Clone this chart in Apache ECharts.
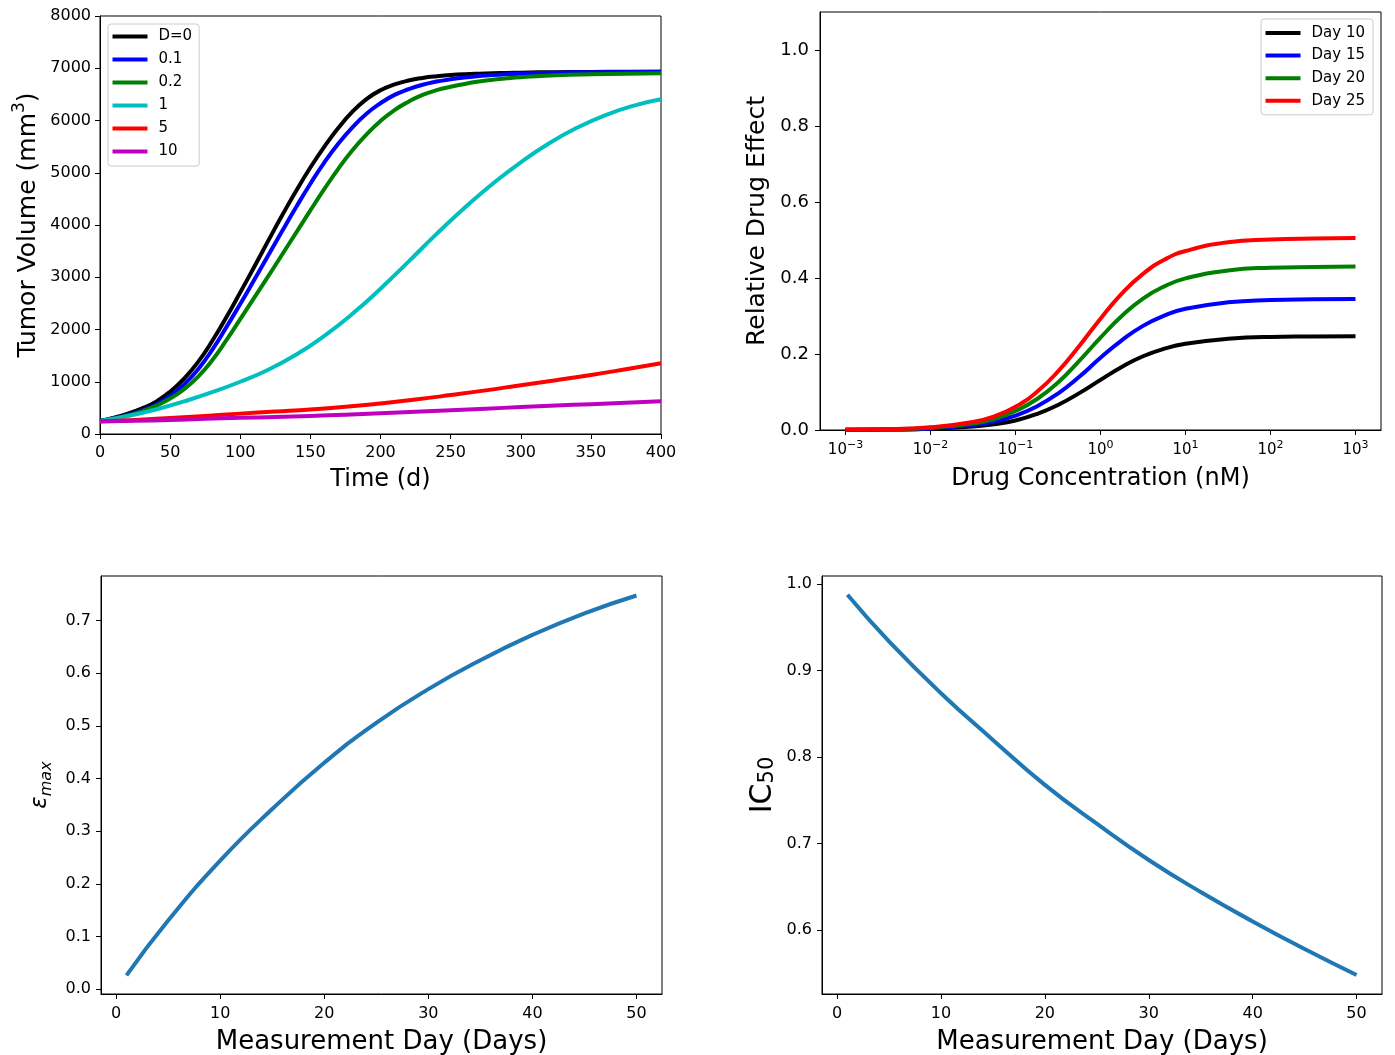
<!DOCTYPE html>
<html>
<head>
<meta charset="utf-8">
<script src="https://cdn.jsdelivr.net/npm/echarts@6/dist/echarts.min.js"></script>
<style>html,body{margin:0;padding:0;background:#fff}#c{width:1395px;height:1055px}</style>
</head>
<body>
<div id="c"></div>
<script>
// ---------- Top-left: tumor volume vs time ----------
const timeFine   = [0, 10, 20, 30, 40, 50, 60, 70, 80, 90, 100, 110, 120, 130, 140, 150, 160, 170, 180, 190, 200,
                    210, 220, 230, 240, 250, 260, 270, 280, 290, 300, 325, 350, 375, 400];
const volD0  = [250, 310, 390, 490, 620, 810, 1060, 1380, 1780, 2230, 2710, 3200, 3700, 4190, 4660, 5100, 5500, 5860, 6170, 6410, 6580,
                6690, 6765, 6815, 6848, 6870, 6886, 6897, 6905, 6911, 6916, 6925, 6930, 6933, 6935];
const volD01 = [250, 300, 365, 450, 565, 730, 950, 1240, 1610, 2040, 2490, 2950, 3420, 3890, 4350, 4790, 5200, 5560, 5870, 6130, 6330,
                6490, 6600, 6685, 6745, 6790, 6825, 6850, 6870, 6885, 6897, 6915, 6925, 6930, 6933];
const volD02 = [250, 295, 355, 435, 540, 680, 860, 1100, 1410, 1790, 2200, 2610, 3020, 3440, 3860, 4280, 4690, 5080, 5430, 5730, 5990,
                6200, 6360, 6490, 6580, 6645, 6700, 6745, 6780, 6808, 6830, 6865, 6885, 6897, 6904];
const timeCyan = [0, 20, 40, 60, 80, 100, 120, 140, 160, 180, 200, 220, 240, 260, 280, 300, 320, 340, 360, 380, 400];
const volD1  = [250, 345, 470, 625, 800, 1000, 1230, 1520, 1880, 2300, 2780, 3300, 3830, 4330, 4790, 5200, 5560, 5860, 6100, 6280, 6405];
const timeCoarse = [0, 25, 50, 75, 100, 125, 150, 175, 200, 225, 250, 275, 300, 325, 350, 375, 400];
const volD5  = [245, 270, 305, 345, 390, 430, 470, 520, 585, 660, 745, 835, 935, 1030, 1130, 1240, 1355];
const volD10 = [240, 252, 270, 290, 310, 325, 345, 370, 395, 425, 455, 485, 515, 545, 570, 600, 628];
const doseNames = ['D=0', '0.1', '0.2', '1', '5', '10'];
const doseColors = ['#000000', '#0000ff', '#008000', '#00bfbf', '#ff0000', '#bf00bf'];

// ---------- Top-right: relative drug effect vs concentration (log10 nM) ----------
const concLog10 = [-3, -2.5, -2, -1.5, -1.25, -1, -0.75, -0.5, -0.25, 0, 0.25, 0.5, 0.75, 1, 1.5, 2, 2.5, 3];
const effDay10 = [0.000, 0.001, 0.003, 0.009, 0.015, 0.025, 0.042, 0.066, 0.097, 0.132, 0.166, 0.194, 0.214, 0.227, 0.240, 0.245, 0.246, 0.247];
const effDay15 = [0.000, 0.001, 0.004, 0.013, 0.022, 0.038, 0.062, 0.096, 0.140, 0.190, 0.236, 0.274, 0.301, 0.319, 0.336, 0.342, 0.344, 0.345];
const effDay20 = [0.001, 0.002, 0.006, 0.017, 0.029, 0.050, 0.081, 0.125, 0.182, 0.243, 0.300, 0.346, 0.378, 0.399, 0.420, 0.427, 0.429, 0.430];
const effDay25 = [0.001, 0.002, 0.007, 0.021, 0.036, 0.061, 0.100, 0.154, 0.221, 0.293, 0.359, 0.411, 0.448, 0.471, 0.494, 0.501, 0.504, 0.505];
const dayNames = ['Day 10', 'Day 15', 'Day 20', 'Day 25'];
const dayColors = ['#000000', '#0000ff', '#008000', '#ff0000'];
const concTickExp = [-3, -2, -1, 0, 1, 2, 3];
const effTicks = [0, 0.2, 0.4, 0.6, 0.8, 1.0];

// ---------- Bottom: eps_max and IC50 vs measurement day ----------
const measDays = [1, 5, 10, 15, 20, 25, 30, 35, 40, 45, 50];
const epsMax = [0.026, 0.130, 0.244, 0.342, 0.430, 0.506, 0.570, 0.625, 0.673, 0.714, 0.748];
const ic50   = [0.988, 0.934, 0.874, 0.820, 0.768, 0.723, 0.681, 0.644, 0.610, 0.578, 0.548];
const dayTicks = [0, 10, 20, 30, 40, 50];
const epsTicks = [0.0, 0.1, 0.2, 0.3, 0.4, 0.5, 0.6, 0.7];
const icTicks = [0.6, 0.7, 0.8, 0.9, 1.0];

const FONT = 'DejaVu Sans';
const BLACK = '#000';

function axis(gridIndex, extra) {
  const a = {
    type: 'value',
    gridIndex: gridIndex,
    axisLine: { show: true, onZero: false, lineStyle: { color: BLACK, width: 1 } },
    axisTick: { show: true, length: 5, lineStyle: { color: BLACK, width: 1 } },
    splitLine: { show: false },
    nameLocation: 'middle',
    nameTextStyle: { color: BLACK, fontFamily: FONT, fontSize: 25 },
    axisLabel: { color: BLACK, fontFamily: FONT, fontSize: 15 }
  };
  for (const k in extra) {
    if (extra[k] && typeof extra[k] === 'object' && !Array.isArray(extra[k]) && a[k] && typeof a[k] === 'object') {
      a[k] = Object.assign({}, a[k], extra[k]);
    } else {
      a[k] = extra[k];
    }
  }
  return a;
}

function pairs(xs, ys) { return xs.map((x, i) => [x, ys[i]]); }

const grids = [
  { left: 100, top: 16, width: 561, height: 418 },
  { left: 820, top: 12, width: 561, height: 418 },
  { left: 101, top: 576, width: 561, height: 418 },
  { left: 822, top: 576, width: 560, height: 418 }
].map(g => Object.assign(g, { show: true, borderColor: BLACK, borderWidth: 1, backgroundColor: 'transparent', containLabel: false, outerBoundsMode: 'none' }));

const xAxes = [
  axis(0, { min: 0, max: 400, interval: 50, name: 'Time (d)', nameGap: 34,
    nameTextStyle: { fontSize: 24 },
    axisLabel: { margin: 11, fontSize: 16, formatter: v => String(v) } }),
  axis(1, { min: -3.3, max: 3.3, name: 'Drug Concentration (nM)', nameGap: 37,
    nameTextStyle: { fontSize: 24 },
    axisTick: { customValues: concTickExp },
    axisLabel: { margin: 10, customValues: concTickExp,
      formatter: v => '{b|10}{s|' + (v < 0 ? '\u2212' + (-v) : String(v)) + '}',
      rich: {
        b: { fontSize: 15, lineHeight: 18, verticalAlign: 'bottom', fontFamily: FONT, color: BLACK },
        s: { fontSize: 11, lineHeight: 9, verticalAlign: 'top', fontFamily: FONT, color: BLACK }
      } } }),
  axis(2, { min: -1.45, max: 52.45, name: 'Measurement Day (Days)', nameGap: 35,
    nameTextStyle: { fontSize: 26 },
    axisTick: { customValues: dayTicks },
    axisLabel: { margin: 12, fontSize: 16, customValues: dayTicks, formatter: v => String(v) } }),
  axis(3, { min: -1.45, max: 52.45, name: 'Measurement Day (Days)', nameGap: 35,
    nameTextStyle: { fontSize: 26 },
    axisTick: { customValues: dayTicks },
    axisLabel: { margin: 12, fontSize: 16, customValues: dayTicks, formatter: v => String(v) } })
];

const yAxes = [
  axis(0, { min: 0, max: 8000, interval: 1000, name: '{n|Tumor Volume (mm}{s|3}{n|)}', nameGap: 59,
    nameTextStyle: { rich: {
      n: { fontSize: 25, lineHeight: 30, verticalAlign: 'bottom', fontFamily: FONT, color: BLACK },
      s: { fontSize: 17, lineHeight: 17, verticalAlign: 'top', fontFamily: FONT, color: BLACK }
    } },
    axisLabel: { margin: 9, fontSize: 16, formatter: v => String(v) } }),
  axis(1, { min: 0, max: 1.1, name: 'Relative Drug Effect', nameGap: 50,
    axisTick: { customValues: effTicks },
    axisLabel: { margin: 11, fontSize: 18, customValues: effTicks, formatter: v => v.toFixed(1) } }),
  axis(2, { min: -0.0095, max: 0.785, name: '{e|\u03b5}{m|max}', nameGap: 46,
    nameTextStyle: { rich: {
      e: { fontSize: 23, lineHeight: 26, verticalAlign: 'top', fontStyle: 'italic', fontFamily: FONT, color: BLACK },
      m: { fontSize: 16, lineHeight: 16, verticalAlign: 'bottom', fontStyle: 'italic', fontFamily: FONT, color: BLACK }
    } },
    axisTick: { customValues: epsTicks },
    axisLabel: { margin: 10, fontSize: 16, customValues: epsTicks, formatter: v => v.toFixed(1) } }),
  axis(3, { min: 0.526, max: 1.0096, name: '{i|IC}{s|50}', nameGap: 44,
    nameTextStyle: { rich: {
      i: { fontSize: 30, lineHeight: 30, verticalAlign: 'top', fontFamily: FONT, color: BLACK },
      s: { fontSize: 21, lineHeight: 14, verticalAlign: 'bottom', fontFamily: FONT, color: BLACK }
    } },
    axisTick: { customValues: icTicks },
    axisLabel: { margin: 10, fontSize: 16, customValues: icTicks, formatter: v => v.toFixed(1) } })
];

function lineSeries(name, color, data, xi, yi) {
  return {
    type: 'line', name: name, xAxisIndex: xi, yAxisIndex: yi,
    data: data, showSymbol: false, symbol: 'none',
    smooth: 0.5,
    lineStyle: { color: color, width: 4, cap: 'butt', join: 'round' },
    itemStyle: { color: color },
    emphasis: { disabled: true },
    silent: true
  };
}

const tlData = [
  pairs(timeFine, volD0), pairs(timeFine, volD01), pairs(timeFine, volD02),
  pairs(timeCyan, volD1), pairs(timeCoarse, volD5), pairs(timeCoarse, volD10)
];
const trEffs = [effDay10, effDay15, effDay20, effDay25];

const series = [];
tlData.forEach((d, i) => series.push(lineSeries(doseNames[i], doseColors[i], d, 0, 0)));
trEffs.forEach((v, i) => series.push(lineSeries(dayNames[i], dayColors[i], pairs(concLog10, v), 1, 1)));
series.push(lineSeries('eps', '#1f77b4', pairs(measDays, epsMax), 2, 2));
series.push(lineSeries('ic50', '#1f77b4', pairs(measDays, ic50), 3, 3));

const legendBase = {
  orient: 'vertical', icon: 'rect', itemWidth: 35, itemHeight: 4,
  backgroundColor: 'rgba(255,255,255,0.8)', borderColor: '#cccccc', borderWidth: 1, borderRadius: 3,
  textStyle: { color: BLACK, fontFamily: FONT, fontSize: 15, lineHeight: 17, padding: [0, 0, 0, 6] },
  selectedMode: false
};

const option = {
  animation: false,
  backgroundColor: '#ffffff',
  grid: grids,
  xAxis: xAxes,
  yAxis: yAxes,
  legend: [
    Object.assign({}, legendBase, { data: doseNames, left: 108, top: 24, itemGap: 6, padding: [4, 7, 6, 4.5] }),
    Object.assign({}, legendBase, { data: dayNames, right: 22, top: 19, itemGap: 5.6, padding: [5.5, 8, 5.5, 4.5] })
  ],
  series: series
};

const chart = echarts.init(document.getElementById('c'), null, { renderer: 'canvas' });
chart.setOption(option);
</script>
</body>
</html>
